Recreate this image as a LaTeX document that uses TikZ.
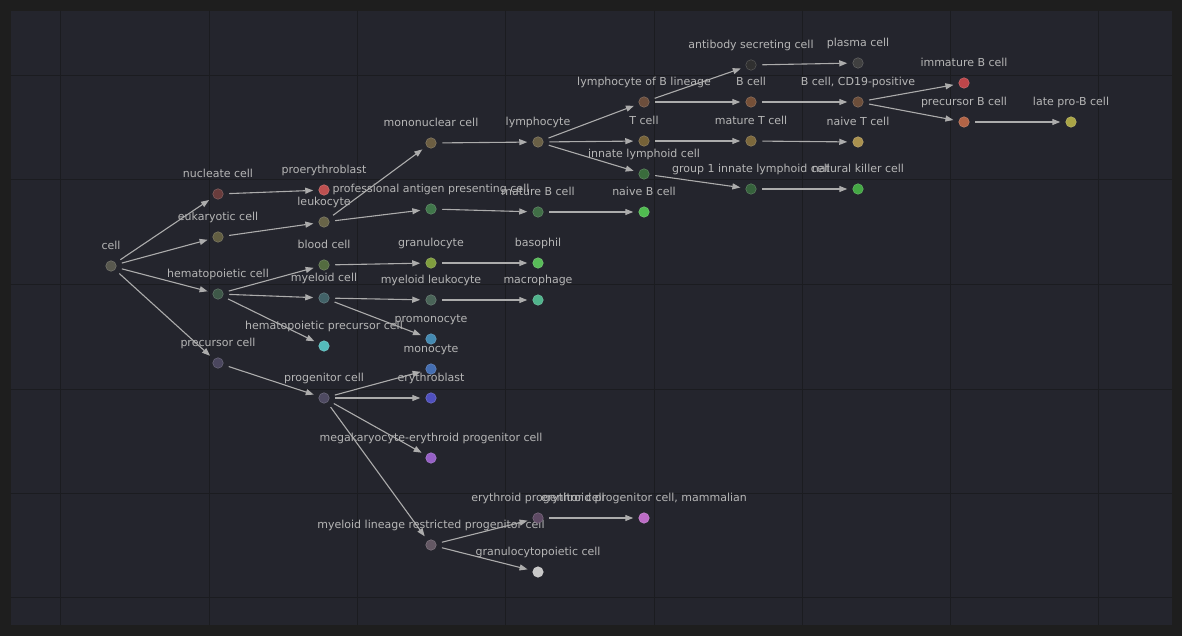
\documentclass[tikz,border=0pt]{standalone}
\usepackage{fontspec}
\setmainfont{DejaVu Sans}
\usetikzlibrary{arrows.meta}
\definecolor{outerbg}{RGB}{30,30,30}
\definecolor{panel}{RGB}{36,37,45}
\definecolor{gridc}{RGB}{27,28,32}
\definecolor{edgec}{RGB}{172,172,172}
\definecolor{txtc}{RGB}{182,182,182}
\newcommand\cnode[5]{%
  \definecolor{c-#1}{RGB}{#4}%
  \node[dot, fill=c-#1, draw=c-#1!80!white] (#1) at (#2,#3) {};
  \node[lbl] (#1-l) at (#2,#3-16.5) {#5};
}
\tikzset{
  dot/.style={circle, minimum size=10.5pt, inner sep=0pt, outer sep=0pt, line width=0.5pt},
  lbl/.style={anchor=base, inner sep=0pt, text=txtc, font=\fontsize{11pt}{13pt}\selectfont},
  edge/.style={draw=edgec, line width=1.1pt, shorten <=6pt, shorten >=5.5pt,
    -{Triangle[length=8pt,width=6pt]}},
  gridline/.style={draw=gridc, line width=1pt}
}
\begin{document}
\begin{tikzpicture}[x=1pt,y=-1pt]
\useasboundingbox (0,0) rectangle (1182,636);
\fill[outerbg] (0,0) rectangle (1182,636);
\fill[panel] (10.5,11) rectangle (1172,625);
\foreach \gx in {60,209,357,505,654,802,950,1098} \draw[gridline] (\gx,11) -- (\gx,625);
\foreach \gy in {76,180,284,389,493,597} \draw[gridline] (10.5,\gy) -- (1172,\gy);

\cnode{cell}{111}{266}{88,88,78}{cell}
\cnode{nucleate}{218}{194}{105,60,60}{nucleate cell}
\cnode{eukaryotic}{218}{237}{98,94,66}{eukaryotic cell}
\cnode{hemato}{218}{294}{62,88,72}{hematopoietic cell}
\cnode{precursor}{218}{363}{74,70,94}{precursor cell}
\cnode{proery}{324}{190}{190,80,80}{proerythroblast}
\cnode{leuko}{324}{222}{104,100,72}{leukocyte}
\cnode{blood}{324}{265}{84,108,64}{blood cell}
\cnode{myeloid}{324}{298}{66,98,104}{myeloid cell}
\cnode{hpc}{324}{346}{84,188,188}{hematopoietic precursor cell}
\cnode{progen}{324}{398}{78,74,98}{progenitor cell}
\cnode{mono}{431}{143}{108,94,66}{mononuclear cell}
\cnode{apc}{431}{209}{64,118,74}{professional antigen presenting cell}
\cnode{granu}{431}{263}{128,158,62}{granulocyte}
\cnode{myleuk}{431}{300}{74,100,88}{myeloid leukocyte}
\cnode{promono}{431}{339}{68,138,178}{promonocyte}
\cnode{monocyte}{431}{369}{68,110,178}{monocyte}
\cnode{erythro}{431}{398}{80,80,190}{erythroblast}
\cnode{mep}{431}{458}{150,96,198}{megakaryocyte-erythroid progenitor cell}
\cnode{mlrp}{431}{545}{100,88,100}{myeloid lineage restricted progenitor cell}
\cnode{lympho}{538}{142}{106,96,70}{lymphocyte}
\cnode{matureB}{538}{212}{64,110,70}{mature B cell}
\cnode{baso}{538}{263}{88,188,88}{basophil}
\cnode{macro}{538}{300}{80,180,140}{macrophage}
\cnode{eryprog}{538}{518}{94,74,100}{erythroid progenitor cell}
\cnode{granpo}{538}{572}{200,200,200}{granulocytopoietic cell}
\cnode{lymB}{644}{102}{108,78,60}{lymphocyte of B lineage}
\cnode{Tcell}{644}{141}{118,98,56}{T cell}
\cnode{ilc}{644}{174}{58,108,60}{innate lymphoid cell}
\cnode{naiveB}{644}{212}{80,188,80}{naive B cell}
\cnode{eryprogm}{644}{518}{188,108,198}{erythroid progenitor cell, mammalian}
\cnode{asc}{751}{65}{48,48,48}{antibody secreting cell}
\cnode{Bcell}{751}{102}{118,80,56}{B cell}
\cnode{matureT}{751}{141}{124,104,60}{mature T cell}
\cnode{ilc1}{751}{189}{54,98,60}{group 1 innate lymphoid cell}
\cnode{plasma}{858}{63}{64,64,64}{plasma cell}
\cnode{cd19}{858}{102}{108,78,58}{B cell, CD19-positive}
\cnode{naiveT}{858}{142}{170,145,78}{naive T cell}
\cnode{nk}{858}{189}{68,168,68}{natural killer cell}
\cnode{immB}{964}{83}{190,70,74}{immature B cell}
\cnode{precB}{964}{122}{178,100,70}{precursor B cell}
\cnode{lateproB}{1071}{122}{170,165,70}{late pro-B cell}

\foreach \a/\b in {cell/nucleate, cell/eukaryotic, cell/hemato, cell/precursor,
  nucleate/proery, eukaryotic/leuko, hemato/blood, hemato/myeloid, hemato/hpc,
  precursor/progen, leuko/mono, leuko/apc, blood/granu, myeloid/myleuk, myeloid/promono,
  progen/monocyte, progen/erythro, progen/mep, progen/mlrp, mono/lympho, apc/matureB,
  granu/baso, myleuk/macro, mlrp/eryprog, mlrp/granpo, lympho/lymB, lympho/Tcell,
  lympho/ilc, matureB/naiveB, eryprog/eryprogm, lymB/asc, lymB/Bcell, Tcell/matureT,
  ilc/ilc1, asc/plasma, Bcell/cd19, matureT/naiveT, ilc1/nk, cd19/immB, cd19/precB,
  precB/lateproB}
  \draw[edge] (\a) -- (\b);
\end{tikzpicture}
\end{document}
